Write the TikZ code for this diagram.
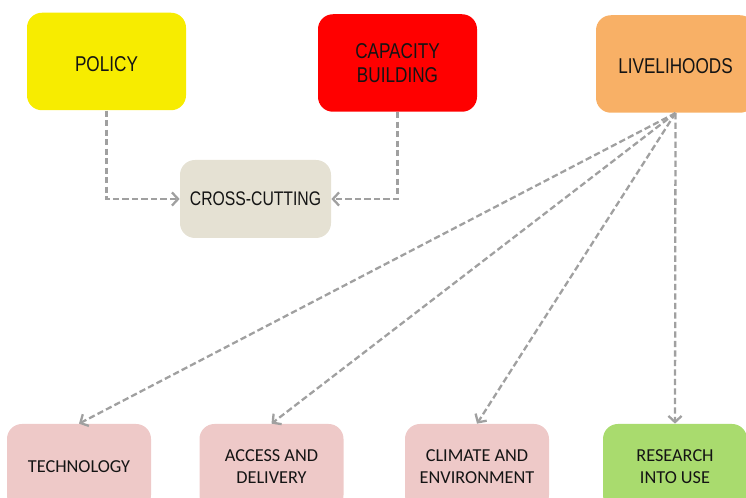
\documentclass[tikz,border=0pt]{standalone}
\usepackage{fontspec}
\newfontfamily\headfont{Liberation Sans}[FakeStretch=0.8]
\newfontfamily\boxfont{Carlito}
\usetikzlibrary{arrows.meta}
\definecolor{policyyellow}{RGB}{247,236,0}
\definecolor{capacityred}{RGB}{255,0,0}
\definecolor{livelihoodorange}{RGB}{248,176,102}
\definecolor{crossbeige}{RGB}{229,225,211}
\definecolor{themepink}{RGB}{238,201,200}
\definecolor{researchgreen}{RGB}{169,219,110}
\definecolor{linkgray}{RGB}{160,160,160}
\begin{document}
\begin{tikzpicture}[>={Straight Barb[length=3.5pt,width=7.5pt]},
  topbox/.style={rounded corners=8.5pt, minimum width=3.18cm, minimum height=1.95cm, inner sep=0pt, align=center, text=black!92, font=\headfont\fontsize{12.2}{13.7}\selectfont},
  subbox/.style={rounded corners=8.5pt, minimum width=2.88cm, minimum height=1.72cm, inner sep=0pt, align=center, fill=themepink, text=black!92, font=\boxfont\fontsize{10.4}{12.5}\selectfont},
  link/.style={->, linkgray, line width=1.3pt, dash pattern=on 3.6pt off 1.8pt}]
\path[use as bounding box, clip](0,0) rectangle (14.92,9.96);
\node[topbox, fill=policyyellow] (policy) at (2.13,8.73) {\raisebox{-1.5pt}[\height][0pt]{POLICY}};
\node[topbox, fill=capacityred] (capacity) at (7.95,8.70) {CAPACITY\\BUILDING};
\node[topbox, fill=livelihoodorange] (livelihoods) at (13.51,8.68) {\raisebox{-1pt}[\height][0pt]{LIVELIHOODS}};
\node[topbox, fill=crossbeige, minimum width=3.02cm, minimum height=1.56cm, font=\headfont\fontsize{11.2}{13}\selectfont] (crosscut) at (5.11,5.98) {CROSS-CUTTING};

\node[subbox] (technology) at (1.58,0.62) {TECHNOLOGY};
\node[subbox] (access) at (5.43,0.62) {ACCESS AND\\DELIVERY};
\node[subbox] (climate) at (9.54,0.62) {CLIMATE AND\\ENVIRONMENT};
\node[subbox, fill=researchgreen] (research) at (13.5,0.62) {RESEARCH\\INTO USE};

\draw[link](policy.south) |- (crosscut.west);
\draw[link](capacity.south) |- (crosscut.east);
\draw[link](livelihoods.south) -- (technology.north);
\draw[link](livelihoods.south) -- (access.north);
\draw[link](livelihoods.south) -- (climate.north);
\draw[link](livelihoods.south) -- (research.north);
\end{tikzpicture}
\end{document}
